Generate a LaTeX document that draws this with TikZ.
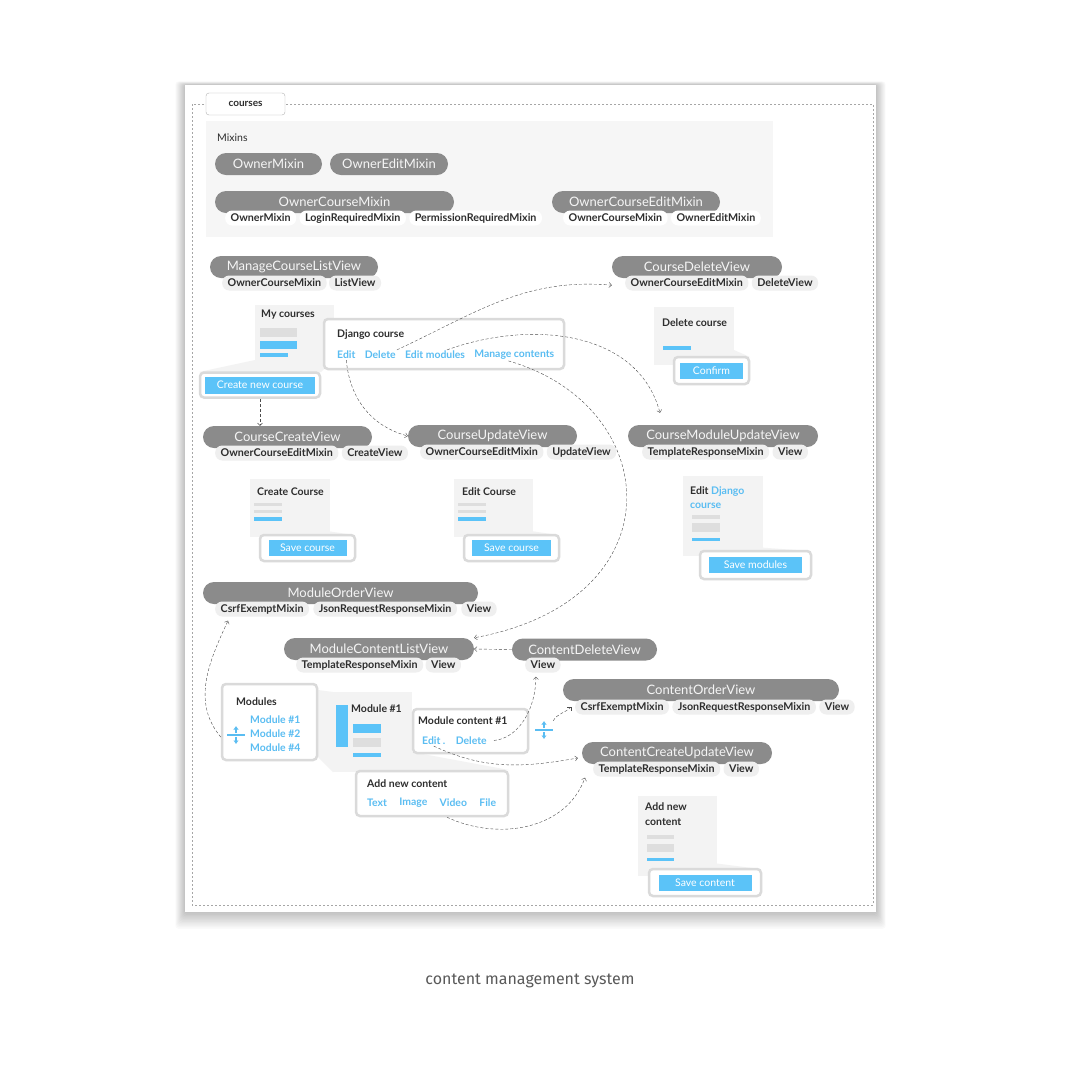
\documentclass[tikz,border=0pt]{standalone}
\usepackage{fontspec}
\setmainfont{Lato}
\newfontfamily\captionfont{Fira Sans}
\usepackage{xcolor}
\usetikzlibrary{positioning,arrows.meta}

\definecolor{pillgray}{HTML}{8B8B8B}
\definecolor{taggray}{HTML}{EFEFEF}
\definecolor{panelgray}{HTML}{F3F3F3}
\definecolor{mixgray}{HTML}{F6F6F6}
\definecolor{boxline}{HTML}{DADADA}
\definecolor{linkblue}{HTML}{5ABDF2}
\definecolor{btnblue}{HTML}{5BC3F8}
\definecolor{bargray}{HTML}{DEDEDE}
\definecolor{inkgray}{HTML}{2E2E2E}

\begin{document}
\begin{tikzpicture}[x=1pt, y=1pt,
    pill/.style={fill=pillgray, text=white!96!black, rounded corners=11pt, minimum height=22pt,
      inner sep=0pt, font=\fontsize{13}{15}\selectfont},
    tag/.style={fill=taggray, text=inkgray, rounded corners=7pt, minimum height=15pt,
      inner xsep=5.5pt, inner ysep=0pt, font=\fontsize{10.7}{12}\selectfont\bfseries},
    tagw/.style={tag, fill=white},
    frame/.style={draw=boxline, line width=2.5pt, fill=white, rounded corners=4pt, inner sep=0pt},
    button/.style={fill=btnblue, text=white, inner sep=0pt, font=\fontsize{10.5}{12}\selectfont},
    title/.style={anchor=west, inner sep=0pt, text=inkgray, font=\fontsize{10.5}{12}\selectfont\bfseries},
    link/.style={inner sep=1pt, text=linkblue, font=\fontsize{10.4}{12}\selectfont\bfseries},
    sortline/.style={draw=linkblue, line width=1.4pt},
    sortarrow/.style={draw=linkblue, line width=1.3pt, -{Latex[length=3.5pt, width=5.5pt]}},
    flow/.style={draw=black!70, thin, dash pattern=on 3pt off 2pt, -{Straight Barb[length=2.5pt, width=5pt]}}]

    % page and card
    \useasboundingbox[fill=white] (0,0) rectangle (1080,-1080);
    \foreach \s in {1,...,12}
        \fill[black, opacity=0.02, rounded corners=3pt] (185-0.8*\s,-85+0.3*\s) rectangle (876+0.8*\s,-912-1.4*\s);
    \fill[white] (185,-85) rectangle (876,-912);
    \draw[draw=black!35, thin, dash pattern=on 2pt off 2pt] (192,-104) rectangle (873,-905);
    \node[draw=black!30, fill=white, rounded corners=3pt, minimum width=79pt, minimum height=22pt,
          inner sep=0pt, text=inkgray, font=\fontsize{10}{12}\selectfont\bfseries] (tab) at (245.5,-104) {courses};

    % mixins
    \fill[mixgray] (206,-121) rectangle (773,-237);
    \node[anchor=west, inner sep=0pt, text=inkgray, font=\fontsize{10.5}{12}\selectfont] (mixLbl) at (217,-138) {Mixins};
    \node[pill, minimum width=107pt] (om) at (268.5,-164) {OwnerMixin};
    \node[pill, minimum width=118pt] (oem) at (389,-164) {OwnerEditMixin};
    \node[pill, minimum width=239pt] (ocm) at (334.5,-202) {OwnerCourseMixin};
    \node[tagw, anchor=west] (ocmA) at (225,-218) {OwnerMixin};
    \node[tagw, right=3pt of ocmA] (ocmB) {LoginRequiredMixin};
    \node[tagw, right=3pt of ocmB] (ocmC) {PermissionRequiredMixin};
    \node[pill, minimum width=168pt] (ocem) at (636,-202) {OwnerCourseEditMixin};
    \node[tagw, anchor=west] (ocemA) at (563,-218) {OwnerCourseMixin};
    \node[tagw, right=3pt of ocemA] (ocemB) {OwnerEditMixin};

    % course list screen
    \fill[panelgray] (255,-305) rectangle (334,-362);
    \fill[panelgray] (255,-360) -- (334,-360) -- (321,-372) -- (199,-372) -- cycle;
    \fill[bargray] (260,-328) rectangle (297,-337);
    \fill[btnblue] (260,-341) rectangle (297,-349);
    \fill[btnblue] (260,-353) rectangle (288,-357);
    \node[title] (myTitle) at (261,-315) {My courses};
    \node[frame, minimum width=120pt, minimum height=25pt] (newFrame) at (260,-385) {};
    \node[button, minimum width=110pt, minimum height=17pt] (newBtn) at (newFrame) {Create new course};
    \node[frame, minimum width=240pt, minimum height=50pt] (djFrame) at (444,-344) {};
    \node[title] (djTitle) at (337,-335) {Django course};
    \node[link, anchor=west] (editLnk) at (336,-355) {Edit};
    \node[link, right=7pt of editLnk] (delLnk) {Delete};
    \node[link, right=7pt of delLnk] (emLnk) {Edit modules};
    \node[link, right=7pt of emLnk] (mcLnk) {Manage contents};

    % delete screen
    \fill[panelgray] (654,-307) rectangle (734,-365);
    \fill[panelgray] (734,-350) -- (750,-357) -- (734,-357) -- cycle;
    \fill[btnblue] (663,-346) rectangle (691,-350);
    \node[title] (dcTitle) at (662,-323) {Delete course};
    \node[frame, minimum width=75pt, minimum height=27pt] (cfFrame) at (711.5,-370.5) {};
    \node[button, minimum width=63pt, minimum height=16pt] (cfBtn) at (cfFrame) {Confirm};

    % create / edit screens
    \fill[panelgray] (250,-479) rectangle (330,-537);
    \fill[panelgray] (320,-530) -- (354,-535) -- (320,-535) -- cycle;
    \fill[bargray] (254,-503) rectangle (282,-506);
    \fill[bargray] (254,-510) rectangle (282,-513);
    \fill[btnblue] (254,-517) rectangle (282,-521);
    \node[title] (ccTitle) at (257,-492) {Create Course};
    \node[frame, minimum width=95pt, minimum height=26pt] (ccFrame) at (307.5,-548) {};
    \node[button, minimum width=78pt, minimum height=16pt] (ccBtn) at (ccFrame) {Save course};

    \fill[panelgray] (454,-479) rectangle (533,-537);
    \fill[panelgray] (524,-530) -- (558,-535) -- (524,-535) -- cycle;
    \fill[bargray] (458,-503) rectangle (486,-506);
    \fill[bargray] (458,-510) rectangle (486,-513);
    \fill[btnblue] (458,-517) rectangle (486,-521);
    \node[title] (ecTitle) at (462,-492) {Edit Course};
    \node[frame, minimum width=95pt, minimum height=26pt] (ecFrame) at (511.5,-548) {};
    \node[button, minimum width=79pt, minimum height=16pt] (ecBtn) at (ecFrame) {Save course};

    % edit modules screen
    \fill[panelgray] (683,-476) rectangle (763,-556);
    \fill[panelgray] (740,-546) -- (810,-551) -- (740,-551) -- cycle;
    \fill[bargray] (692,-515) rectangle (720,-519);
    \fill[bargray] (692,-523) rectangle (720,-532);
    \fill[btnblue] (692,-538) rectangle (720,-541);
    \node[title] (emTitle) at (690,-492) {Edit \textcolor{linkblue}{Django}};
    \node[title, text=linkblue] (emTitleB) at (690,-506) {course};
    \node[frame, minimum width=111pt, minimum height=28pt] (smFrame) at (755.5,-565) {};
    \node[button, minimum width=93pt, minimum height=16pt] (smBtn) at (smFrame) {Save modules};

    % modules screen
    \fill[panelgray] (333,-692) rectangle (412,-772);
    \fill[panelgray] (318,-690) -- (333,-692) -- (333,-772) -- (318,-757) -- cycle;
    \fill[panelgray] (412,-752) -- (509,-770) -- (412,-770) -- cycle;
    \fill[btnblue] (336,-705) rectangle (348,-747);
    \fill[btnblue] (353,-724) rectangle (381,-733);
    \fill[bargray] (353,-738) rectangle (381,-747);
    \fill[btnblue] (353,-753) rectangle (381,-757);
    \node[title] (m1Title) at (351,-709) {Module \#1};
    \node[frame, minimum width=95pt, minimum height=76pt] (modFrame) at (269.5,-722) {};
    \node[title] (modTitle) at (236,-702) {Modules};
    \node[link, anchor=west] (modA) at (249,-720) {Module \#1};
    \node[link, anchor=west] (modB) at (249,-734) {Module \#2};
    \node[link, anchor=west] (modC) at (249,-748) {Module \#4};
    \node[minimum size=18pt, inner sep=0pt] (sortA) at (236,-735) {};
    \draw[sortline] ([xshift=-9pt]sortA.center) -- ([xshift=9pt]sortA.center);
    \draw[sortarrow] ([yshift=2pt]sortA.center) -- ([yshift=9pt]sortA.center);
    \draw[sortarrow] ([yshift=-2pt]sortA.center) -- ([yshift=-9pt]sortA.center);
    \node[frame, minimum width=115pt, minimum height=44pt] (mcFrame) at (470.5,-731) {};
    \node[title] (mcTitle) at (418,-721) {Module content \#1};
    \node[link, anchor=west] (mcEdit) at (421,-741) {Edit .};
    \node[link, right=8pt of mcEdit] (mcDel) {Delete};
    \node[minimum size=18pt, inner sep=0pt] (sortB) at (544,-730) {};
    \draw[sortline] ([xshift=-9pt]sortB.center) -- ([xshift=9pt]sortB.center);
    \draw[sortarrow] ([yshift=2pt]sortB.center) -- ([yshift=9pt]sortB.center);
    \draw[sortarrow] ([yshift=-2pt]sortB.center) -- ([yshift=-9pt]sortB.center);
    \node[frame, minimum width=152pt, minimum height=45pt] (addFrame) at (432,-793.5) {};
    \node[title] (addTitle) at (367,-784) {Add new content};
    \node[link, anchor=west] (txtLnk) at (366,-803) {Text};
    \node[link, right=10pt of txtLnk] (imgLnk) {Image};
    \node[link, right=10pt of imgLnk] (vidLnk) {Video};
    \node[link, right=10pt of vidLnk] (fileLnk) {File};

    % content screen
    \fill[panelgray] (638,-796) rectangle (717,-876);
    \fill[panelgray] (705,-862) -- (760,-869) -- (705,-869) -- cycle;
    \fill[bargray] (647,-835) rectangle (674,-839);
    \fill[bargray] (647,-844) rectangle (674,-852);
    \fill[btnblue] (647,-858) rectangle (674,-861);
    \node[title] (acTitle) at (645,-807) {Add new};
    \node[title] (acTitleB) at (645,-822) {content};
    \node[frame, minimum width=112pt, minimum height=27pt] (scFrame) at (705,-882.5) {};
    \node[button, minimum width=93pt, minimum height=16pt] (scBtn) at (scFrame) {Save content};

    % views
    \node[pill, minimum width=168pt] (mclv) at (294,-267) {ManageCourseListView};
    \node[tag, anchor=west] (mclvA) at (222,-283) {OwnerCourseMixin};
    \node[tag, right=2pt of mclvA] (mclvB) {ListView};
    \node[pill, minimum width=170pt] (cdv) at (697,-267) {CourseDeleteView};
    \node[tag, anchor=west] (cdvA) at (625,-283) {OwnerCourseEditMixin};
    \node[tag, right=3pt of cdvA] (cdvB) {DeleteView};
    \node[pill, minimum width=169pt] (ccv) at (287.5,-437) {CourseCreateView};
    \node[tag, anchor=west] (ccvA) at (215,-453) {OwnerCourseEditMixin};
    \node[tag, right=3pt of ccvA] (ccvB) {CreateView};
    \node[pill, minimum width=169pt] (cuv) at (492.5,-436) {CourseUpdateView};
    \node[tag, anchor=west] (cuvA) at (420,-452) {OwnerCourseEditMixin};
    \node[tag, right=3pt of cuvA] (cuvB) {UpdateView};
    \node[pill, minimum width=190pt] (cmuv) at (723,-436) {CourseModuleUpdateView};
    \node[tag, anchor=west] (cmuvA) at (642,-452) {TemplateResponseMixin};
    \node[tag, right=3pt of cmuvA] (cmuvB) {View};
    \node[pill, minimum width=275pt] (mov) at (340.5,-593) {ModuleOrderView};
    \node[tag, anchor=west] (movA) at (215,-609) {CsrfExemptMixin};
    \node[tag, right=4pt of movA] (movB) {JsonRequestResponseMixin};
    \node[tag, right=4pt of movB] (movC) {View};
    \node[pill, minimum width=190pt] (mcl) at (379,-649) {ModuleContentListView};
    \node[tag, anchor=west] (mclA) at (296,-665) {TemplateResponseMixin};
    \node[tag, right=2pt of mclA] (mclB) {View};
    \node[pill, minimum width=145pt] (cdw) at (584.5,-649.5) {ContentDeleteView};
    \node[tag, anchor=west] (cdwA) at (525,-665) {View};
    \node[pill, minimum width=276pt] (cov) at (701,-690) {ContentOrderView};
    \node[tag, anchor=west] (covA) at (575,-707) {CsrfExemptMixin};
    \node[tag, right=3pt of covA] (covB) {JsonRequestResponseMixin};
    \node[tag, right=3pt of covB] (covC) {View};
    \node[pill, minimum width=190pt] (ccuv) at (677,-753) {ContentCreateUpdateView};
    \node[tag, anchor=west] (ccuvA) at (593,-769) {TemplateResponseMixin};
    \node[tag, right=3pt of ccuvA] (ccuvB) {View};

    % flows
    \draw[flow] (delLnk.north east) to[out=25, in=175] ([yshift=-7pt]cdv.south west);
    \draw[flow] ([xshift=12pt]emLnk.north) to[out=20, in=105] ([xshift=-63pt, yshift=12pt]cmuv.north);
    \draw[flow] (editLnk.south) to[out=-85, in=165] (cuv.west);
    \draw[flow] ([xshift=-6pt]mcLnk.south) .. controls +(155,-44) and +(206,38) .. (mcl.north east);
    \draw[flow] (newFrame.south) -- (newFrame.south |- ccv.north);
    \draw[flow] (cdw.west) -- (mcl.east);
    \draw[flow] ([yshift=-15pt]modFrame.west) to[out=130, in=245] ([xshift=13pt, yshift=-4pt]movA.south west);
    \draw[flow, shorten <=6pt] (mcDel.east) to[out=5, in=-90] ([xshift=-7pt, yshift=-4pt]cdwA.south);
    \draw[flow] (sortB.north east) to[out=60, in=225] ([xshift=-4pt]covA.west);
    \draw[flow] (mcEdit.south) to[out=-25, in=190] ([xshift=-4pt, yshift=-5pt]ccuv.west);
    \draw[flow] ([xshift=15pt]addFrame.south) to[out=-25, in=-110] ([xshift=-8pt, yshift=-1pt]ccuvA.south west);

    \node[text=black!65, font=\captionfont\fontsize{16}{18}\selectfont] (caption) at (530,-981) {content management system};
\end{tikzpicture}
\end{document}
